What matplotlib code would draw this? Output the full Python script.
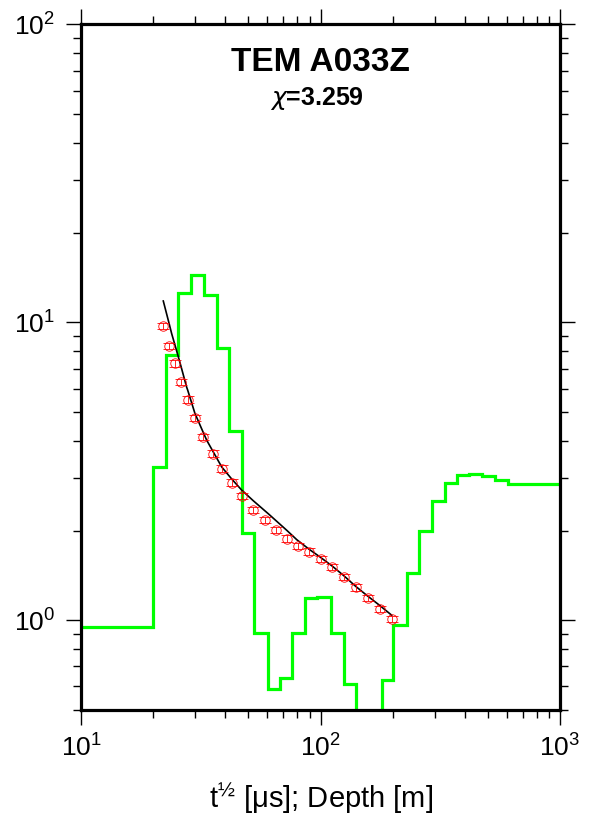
import matplotlib
matplotlib.use("Agg")
import matplotlib.pyplot as plt
from matplotlib.ticker import LogLocator, NullFormatter

plt.rcParams['font.family'] = ['Liberation Sans', 'DejaVu Sans']
plt.rcParams['mathtext.fontset'] = 'custom'
plt.rcParams['mathtext.rm'] = 'Liberation Sans'
plt.rcParams['mathtext.it'] = 'DejaVu Sans:italic'
plt.rcParams['mathtext.bf'] = 'Liberation Sans:bold'

# ---- data ----
title = "TEM A033Z"
chi_text = r"$\chi$=3.259"
xlabel = r"t$^{\mathregular{½}}$ [μs]; Depth [m]"

# layered model: layer top depths (m) and resistivity values
layer_tops = [10, 20, 22.6, 25.5, 28.8, 32.7, 36.9, 41.6, 47.0, 52.9, 60.2,
              67.7, 76.2, 86.4, 97.0, 110.3, 125.3, 140.2, 159.0, 180.1,
              201.3, 229.0, 257.8, 291.0, 331.0, 370.5, 418.0, 473.7, 535.3,
              604.9]
layer_rho = [0.95, 3.27, 7.8, 12.57, 14.4, 12.4, 8.2, 4.32, 1.96, 0.909,
             0.59, 0.639, 0.909, 1.19, 1.20, 0.909, 0.613, 0.35, 0.40, 0.632,
             0.962, 1.446, 1.995, 2.51, 2.88, 3.08, 3.10, 3.05, 2.95, 2.87]
model_end = 1000

# observed data (sqrt time) with values
obs_t = [22.06, 23.37, 24.6, 26.24, 27.9, 29.9, 32.4, 35.7, 38.9, 42.6,
         47.2, 52.4, 58.7, 65.0, 72.3, 80.3, 89.8, 100.2, 112.0, 125.7,
         140.3, 158.4, 177.2, 198.3]
obs_v = [9.74, 8.34, 7.28, 6.32, 5.51, 4.78, 4.13, 3.63, 3.23, 2.90,
         2.61, 2.35, 2.17, 2.01, 1.88, 1.78, 1.70, 1.61, 1.51, 1.40,
         1.29, 1.19, 1.09, 1.01]
obs_err_frac = 0.025

# model response curve
resp_t = [22.06, 23.37, 23.9, 24.6, 25.5, 26.24, 27.6, 27.9, 29.9, 32.4,
          33.5, 35.7, 38.7, 42.6, 46.8, 52.4, 60.5, 65.0, 72.3, 79.6, 89.8,
          99.7, 112.0, 124.6, 140.3, 156.0, 177.2, 198.3]
resp_v = [11.8, 9.86, 9.18, 8.47, 7.66, 7.05, 6.07, 5.92, 4.95, 4.27,
          4.02, 3.67, 3.27, 2.98, 2.74, 2.52, 2.28, 2.165, 2.005, 1.865, 1.73,
          1.63, 1.52, 1.416, 1.30, 1.213, 1.12, 1.04]

xlim = (10, 1000)
ylim = (0.5, 100)

# ---- figure ----
fig = plt.figure(figsize=(5.9, 8.22), dpi=100)
ax = fig.add_axes([81 / 590, 112 / 822, 479 / 590, 685.5 / 822])
ax.set_xscale('log')
ax.set_yscale('log')
ax.set_xlim(*xlim)
ax.set_ylim(*ylim)

step_x = layer_tops + [model_end]
step_y = layer_rho + [layer_rho[-1]]
ax.plot(step_x, step_y, drawstyle='steps-post', color=(0, 1, 0), lw=2.3,
        solid_joinstyle='miter', zorder=2)

ax.plot(resp_t, resp_v, color='black', lw=1.2, zorder=3)

yerr = [v * obs_err_frac for v in obs_v]
ax.errorbar(obs_t, obs_v, yerr=yerr, fmt='o', ms=6.8, mfc='none', mec='red',
            mew=0.6, ecolor='red', elinewidth=0.6, capsize=4.5, capthick=0.6,
            zorder=4)

for s in ax.spines.values():
    s.set_linewidth(2.3)

ax.xaxis.set_major_locator(LogLocator(base=10, numticks=10))
ax.yaxis.set_major_locator(LogLocator(base=10, numticks=10))
ax.xaxis.set_minor_locator(LogLocator(base=10, subs=range(2, 10), numticks=20))
ax.yaxis.set_minor_locator(LogLocator(base=10, subs=range(2, 10), numticks=20))
ax.xaxis.set_minor_formatter(NullFormatter())
ax.yaxis.set_minor_formatter(NullFormatter())

ax.tick_params(which='both', direction='out', top=True, right=True,
               width=1.0, color='black')
ax.tick_params(which='major', length=10.5, labelsize=19)
ax.tick_params(which='minor', length=5.5)
ax.tick_params(axis='y', which='major', pad=8)
ax.tick_params(axis='x', which='major', pad=7)

ax.text(0.5, 0.932, title, transform=ax.transAxes, ha='center',
        va='baseline', fontsize=24, fontweight='bold')
ax.text(0.4915, 0.883, chi_text, transform=ax.transAxes, ha='center',
        va='baseline', fontsize=18, fontweight='bold')

fig.text(321.5 / 590, (822 - 808) / 822, xlabel, ha='center', va='baseline',
         fontsize=21)

fig.savefig('out.png', dpi=100)
